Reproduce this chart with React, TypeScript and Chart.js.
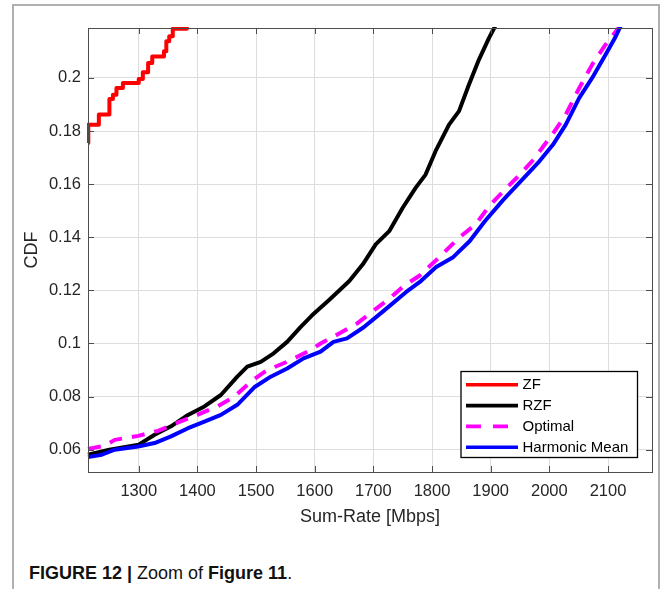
import React, { useEffect, useRef } from "react";
import { Chart, registerables } from "chart.js";

Chart.register(...registerables);

const FONT = '"Liberation Sans", Arial, Helvetica, sans-serif';

const X_MIN = 1213.5;
const X_MAX = 2175;
const Y_MIN = 0.0516;
const Y_MAX = 0.2188;

const xTicks = [1300, 1400, 1500, 1600, 1700, 1800, 1900, 2000, 2100];
const yTicks = [0.06, 0.08, 0.1, 0.12, 0.14, 0.16, 0.18, 0.2];

const seriesLabels = ["ZF", "RZF", "Optimal", "Harmonic Mean"];

const zfX = [1213.5, 1214, 1232, 1250, 1256, 1262, 1273, 1300, 1307, 1316, 1323, 1343, 1347, 1352, 1358, 1382];
const zfY = [0.1755, 0.1824, 0.1862, 0.1921, 0.1937, 0.1962, 0.1981, 0.1996, 0.2021, 0.2056, 0.2081, 0.21, 0.2138, 0.2157, 0.2185, 0.224];

const rzfX = [1213.5, 1250, 1300, 1327, 1355, 1384, 1412, 1440, 1468, 1485, 1508, 1530, 1553, 1575, 1595, 1625, 1659, 1682, 1704, 1727, 1750, 1772, 1789, 1806, 1829, 1846, 1863, 1880, 1897, 1906, 1918];
const rzfY = [0.0581, 0.06, 0.0619, 0.0656, 0.0688, 0.0731, 0.0763, 0.0806, 0.0875, 0.0913, 0.0931, 0.0963, 0.1006, 0.106, 0.1105, 0.1165, 0.1235, 0.1298, 0.1373, 0.1423, 0.1511, 0.1586, 0.1636, 0.1724, 0.1824, 0.1875, 0.1975, 0.2069, 0.215, 0.2188, 0.224];

const optX = [1213.5, 1242, 1259, 1299, 1333, 1364, 1400, 1434, 1463, 1491, 1519, 1553, 1593, 1610, 1644, 1672, 1694, 1728, 1751, 1779, 1810, 1847, 1875, 1898, 1921, 1944, 1972, 2006, 2028, 2051, 2073, 2096, 2118, 2136];
const optY = [0.0603, 0.0615, 0.0637, 0.0652, 0.0671, 0.07, 0.0731, 0.0763, 0.08, 0.0856, 0.09, 0.0931, 0.0975, 0.1, 0.104, 0.1075, 0.1113, 0.117, 0.1215, 0.1256, 0.132, 0.14, 0.145, 0.1519, 0.1572, 0.1623, 0.169, 0.179, 0.1862, 0.1962, 0.205, 0.2126, 0.2188, 0.224];

const hmX = [1213.5, 1237, 1259, 1299, 1327, 1355, 1384, 1412, 1440, 1468, 1497, 1525, 1553, 1581, 1610, 1632, 1655, 1683, 1716, 1756, 1781, 1807, 1836, 1864, 1890, 1921, 1955, 1983, 2006, 2028, 2051, 2073, 2096, 2112, 2120, 2131];
const hmY = [0.0572, 0.0581, 0.06, 0.0612, 0.0625, 0.065, 0.0681, 0.0706, 0.0731, 0.0769, 0.0835, 0.0875, 0.0906, 0.0944, 0.0969, 0.1006, 0.1019, 0.106, 0.112, 0.1194, 0.1235, 0.1288, 0.1325, 0.1385, 0.146, 0.154, 0.162, 0.1686, 0.1748, 0.1824, 0.1925, 0.2, 0.2088, 0.2151, 0.2188, 0.224];

const toPoints = (xs: number[], ys: number[]) => xs.map((x, i) => ({ x, y: ys[i] }));

const AXIS_COLOR = "#4d4d4d";
const TEXT_COLOR = "#262626";

const boxTicksPlugin = {
  id: "boxTicks",
  afterDraw(chart: any) {
    const { ctx, chartArea } = chart;
    const { left, right, top, bottom } = chartArea;
    const xs = chart.scales.x;
    const ys = chart.scales.y;
    const len = 6;
    ctx.save();
    ctx.strokeStyle = AXIS_COLOR;
    ctx.lineWidth = 1;
    ctx.beginPath();
    xs.ticks.forEach((t: any) => {
      const p = Math.round(xs.getPixelForValue(t.value)) + 0.5;
      ctx.moveTo(p, bottom);
      ctx.lineTo(p, bottom - len);
      ctx.moveTo(p, top);
      ctx.lineTo(p, top + len);
    });
    ys.ticks.forEach((t: any) => {
      const p = Math.round(ys.getPixelForValue(t.value)) + 0.5;
      ctx.moveTo(left, p);
      ctx.lineTo(left + len, p);
      ctx.moveTo(right, p);
      ctx.lineTo(right - len, p);
    });
    ctx.stroke();
    ctx.strokeRect(Math.round(left) + 0.5, Math.round(top) + 0.5, Math.round(right - left), Math.round(bottom - top));
    ctx.restore();
  },
};

const legendPlugin = {
  id: "matlabLegend",
  afterDraw(chart: any) {
    const { ctx, chartArea } = chart;
    const w = 176.5;
    const h = 86;
    const r = chartArea.right - 14.5;
    const b = chartArea.bottom - 14.5;
    const l = r - w;
    const t = b - h;
    ctx.save();
    ctx.fillStyle = "#ffffff";
    ctx.fillRect(l, t, w, h);
    ctx.strokeStyle = "#000000";
    ctx.lineWidth = 1.3;
    ctx.strokeRect(l, t, w, h);
    const datasets = chart.data.datasets;
    datasets.forEach((ds: any, i: number) => {
      const y = t + 13.3 + i * 20.8;
      ctx.beginPath();
      ctx.strokeStyle = ds.borderColor;
      ctx.lineWidth = 3.6;
      ctx.lineCap = "butt";
      ctx.setLineDash(ds.borderDash && ds.borderDash.length ? [15, 12] : []);
      ctx.moveTo(l + 5, y);
      ctx.lineTo(l + 57, y);
      ctx.stroke();
      ctx.setLineDash([]);
      ctx.fillStyle = "#000000";
      ctx.font = `15px ${FONT}`;
      ctx.textBaseline = "middle";
      ctx.textAlign = "left";
      ctx.fillText(ds.label, l + 61.5, y + 0.5);
    });
    ctx.restore();
  },
};

export default function App() {
  const ref = useRef<HTMLCanvasElement>(null);

  useEffect(() => {
    if (!ref.current) return;
    const common = {
      showLine: true,
      pointRadius: 0,
      borderWidth: 4,
      borderJoinStyle: "round" as const,
      borderCapStyle: "butt" as const,
      fill: false,
      tension: 0,
      clip: 1,
    };
    const chart = new Chart(ref.current, {
      type: "line",
      data: {
        datasets: [
          { ...common, label: seriesLabels[0], data: toPoints(zfX, zfY), borderColor: "#ff0000", stepped: "before", order: 3 },
          { ...common, label: seriesLabels[1], data: toPoints(rzfX, rzfY), borderColor: "#000000", order: 2 },
          { ...common, label: seriesLabels[2], data: toPoints(optX, optY), borderColor: "#ff00ff", borderDash: [13, 10], order: 1 },
          { ...common, label: seriesLabels[3], data: toPoints(hmX, hmY), borderColor: "#0000ff", order: 0 },
        ] as any,
      },
      options: {
        responsive: false,
        animation: false,
        devicePixelRatio: 1,
        parsing: false as any,
        layout: { padding: { left: 0, top: 28, right: 11, bottom: 0 } },
        plugins: {
          legend: { display: false },
          tooltip: { enabled: false },
        },
        scales: {
          x: {
            type: "linear",
            min: X_MIN,
            max: X_MAX,
            afterBuildTicks: (s: any) => {
              s.ticks = xTicks.map((v) => ({ value: v }));
            },
            afterFit: (s: any) => {
              s.height = 68;
            },
            grid: { color: "#dedede", lineWidth: 1, drawTicks: false },
            border: { display: false },
            ticks: {
              padding: 10,
              color: TEXT_COLOR,
              font: { family: FONT, size: 16.5 },
              maxRotation: 0,
              autoSkip: false,
              callback: (v: any) => String(v),
            },
            title: {
              display: true,
              text: "Sum-Rate [Mbps]",
              color: TEXT_COLOR,
              font: { family: FONT, size: 18 },
              padding: { top: 0, bottom: 12.5 },
            },
          },
          y: {
            type: "linear",
            min: Y_MIN,
            max: Y_MAX,
            afterBuildTicks: (s: any) => {
              s.ticks = yTicks.map((v) => ({ value: v }));
            },
            afterFit: (s: any) => {
              s.width = 88;
            },
            grid: { color: "#dedede", lineWidth: 1, drawTicks: false },
            border: { display: false },
            ticks: {
              padding: 7,
              color: TEXT_COLOR,
              font: { family: FONT, size: 16.5 },
              autoSkip: false,
              callback: (v: any) => String(Number(Number(v).toFixed(2))),
            },
            title: {
              display: true,
              text: "CDF",
              color: TEXT_COLOR,
              font: { family: FONT, size: 18 },
              padding: { top: 21, bottom: 0 },
            },
          },
        },
      },
      plugins: [boxTicksPlugin, legendPlugin],
    } as any);
    return () => chart.destroy();
  }, []);

  return (
    <div style={{ position: "absolute", left: 0, top: 0, width: 663, height: 589, overflow: "hidden", background: "#ffffff" }}>
      <div
        style={{
          position: "absolute",
          left: 12,
          top: 4,
          width: 648,
          height: 640,
          boxSizing: "border-box",
          borderTop: "2px solid #b0b0b0",
          borderLeft: "2px solid #b0b0b0",
          borderRight: "2px solid #b0b0b0",
        }}
      />
      <canvas
        ref={ref}
        width={663}
        height={540}
        style={{ position: "absolute", left: 0, top: 0, width: 663, height: 540, display: "block" }}
      />
      <div
        style={{
          position: "absolute",
          left: 29,
          top: 564,
          fontFamily: FONT,
          fontSize: 18,
          lineHeight: "18px",
          color: "#111111",
          whiteSpace: "nowrap",
        }}
      >
        <b>FIGURE 12 |</b> Zoom of <b>Figure 11</b>.
      </div>
    </div>
  );
}
